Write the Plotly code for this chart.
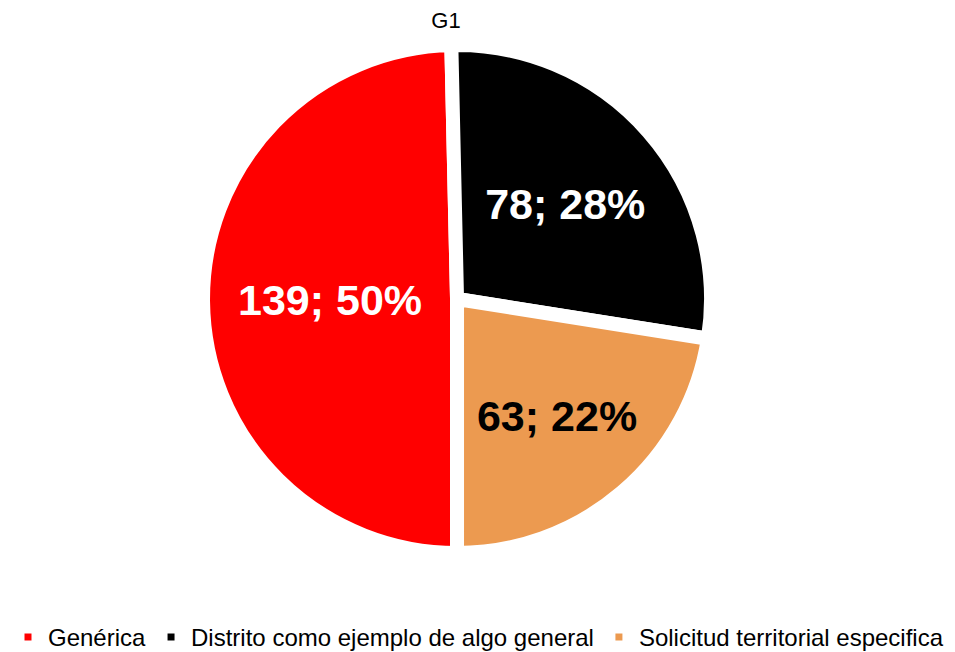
import plotly.graph_objects as go

categories = ["Genérica", "Distrito como ejemplo de algo general", "Solicitud territorial especifica"]
values = [139, 78, 63]
percent_labels = ["50%", "28%", "22%"]
colors = ["#FF0000", "#000000", "#EC9A50"]
text_colors = ["#FFFFFF", "#FFFFFF", "#000000"]

labels_text = [f"<b>{v}; {p}</b>" for v, p in zip(values, percent_labels)]

fig = go.Figure(go.Pie(
    labels=categories,
    values=values,
    text=labels_text,
    textinfo="text",
    textposition="inside",
    insidetextorientation="horizontal",
    insidetextfont=dict(family="Liberation Sans, Arial, sans-serif", size=43, color=text_colors),
    marker=dict(colors=colors, line=dict(width=14, color="#FFFFFF")),
    sort=False,
    direction="clockwise",
    rotation=180,
    domain=dict(x=[0, 883 / 955], y=[0, 1]),
    hoverinfo="label+value+percent",
))

fig.update_layout(
    width=955, height=652,
    margin=dict(l=0, r=0, t=37, b=93),
    paper_bgcolor="white",
    plot_bgcolor="white",
    title=dict(text="G1", x=0.4586, xanchor="center", y=1 - 12 / 652, yanchor="middle",
               yref="container", xref="container",
               font=dict(family="Liberation Sans, Arial, sans-serif", size=22, color="#000000")),
    legend=dict(orientation="h", x=-0.015, xanchor="left", y=-0.1665, yanchor="middle",
                font=dict(family="Liberation Sans, Arial, sans-serif", size=24, color="#000000"),
                traceorder="normal"),
)

fig.write_html("out.html")
